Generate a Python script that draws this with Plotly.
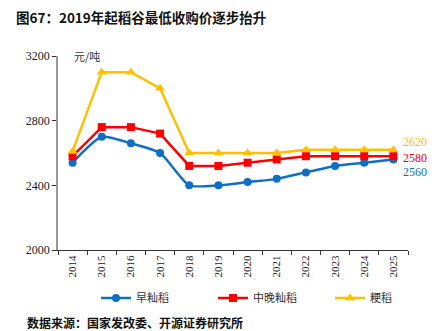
import plotly.graph_objects as go

years = ["2014", "2015", "2016", "2017", "2018", "2019", "2020", "2021", "2022", "2023", "2024", "2025"]
early_indica = [2540, 2700, 2660, 2600, 2400, 2400, 2420, 2440, 2480, 2520, 2540, 2560]
midlate_indica = [2580, 2760, 2760, 2720, 2520, 2520, 2540, 2560, 2580, 2580, 2580, 2580]
japonica = [2610, 3100, 3100, 3000, 2600, 2600, 2600, 2600, 2620, 2620, 2620, 2620]
yticks = [2000, 2400, 2800, 3200]

BLUE = "#0F6FC6"
RED = "#FF0000"
YEL = "#FFC000"
SERIF = "Liberation Serif, Times New Roman, serif"
CJK = "Noto Sans CJK SC"

fig = go.Figure()
fig.add_trace(go.Scatter(x=years, y=early_indica, name="早籼稻", mode="lines+markers",
                         line=dict(color=BLUE, width=2.5, shape="spline", smoothing=0.6),
                         marker=dict(symbol="circle", size=8, color=BLUE)))
fig.add_trace(go.Scatter(x=years, y=midlate_indica, name="中晚籼稻", mode="lines+markers",
                         line=dict(color=RED, width=2.5),
                         marker=dict(symbol="square", size=8, color=RED)))
fig.add_trace(go.Scatter(x=years, y=japonica, name="粳稻", mode="lines+markers",
                         line=dict(color=YEL, width=2.5),
                         marker=dict(symbol="triangle-up", size=9, color=YEL)))

# end labels
last = len(years) - 1
for vals, col, dy in [(japonica, YEL, 8), (midlate_indica, RED, -2), (early_indica, BLUE, -13)]:
    fig.add_annotation(x=last, y=vals[-1], text=str(vals[-1]), showarrow=False,
                       xanchor="left", xshift=8, yshift=dy,
                       font=dict(family=SERIF, size=12, color=col))

PW, PH = 350.0, 194.0
fig.add_annotation(x=14 / PW, xref="paper", y=1.0, yref="paper", text="元/吨", showarrow=False,
                   xanchor="left", yanchor="middle", font=dict(family=CJK, size=11, color="#333"))

fig.add_annotation(x=(14 - 58) / PW, xref="paper", y=1 + 39 / PH, yref="paper", xanchor="left",
                   yanchor="middle", showarrow=False,
                   text="<b>图67：2019年起稻谷最低收购价逐步抬升</b>",
                   font=dict(family=CJK, size=13.5, color="#111"))
fig.add_annotation(x=(25 - 58) / PW, xref="paper", y=-72 / PH, yref="paper", xanchor="left",
                   yanchor="middle", showarrow=False,
                   text="<b>数据来源：国家发改委、开源证券研究所</b>",
                   font=dict(family=CJK, size=12, color="#111"))

fig.update_layout(
    width=435, height=331,
    margin=dict(l=58, r=27, t=56, b=81, autoexpand=False),
    plot_bgcolor="white", paper_bgcolor="white",
    showlegend=True,
    legend=dict(orientation="h", xref="container", x=96 / 435, xanchor="left",
                yref="container", y=1 - 298 / 331, yanchor="middle",
                font=dict(family=CJK, size=11, color="#333"), itemwidth=30,
                entrywidth=72, entrywidthmode="pixels"),
    xaxis=dict(type="category", categoryorder="array", categoryarray=years,
               range=[-0.5, len(years) - 0.5], tickangle=-90, tickson="boundaries",
               ticks="outside", ticklen=4, tickcolor="#333", showline=True, linecolor="#333",
               linewidth=1, tickfont=dict(family=SERIF, size=11, color="#222"), showgrid=False),
    yaxis=dict(range=[2000, 3200], tickvals=yticks, ticks="outside", ticklen=4,
               tickcolor="#333", showline=True, linecolor="#999", linewidth=1.5,
               tickfont=dict(family=SERIF, size=12, color="#222"), showgrid=False,
               zeroline=False),
)

fig.write_html("out.html")
